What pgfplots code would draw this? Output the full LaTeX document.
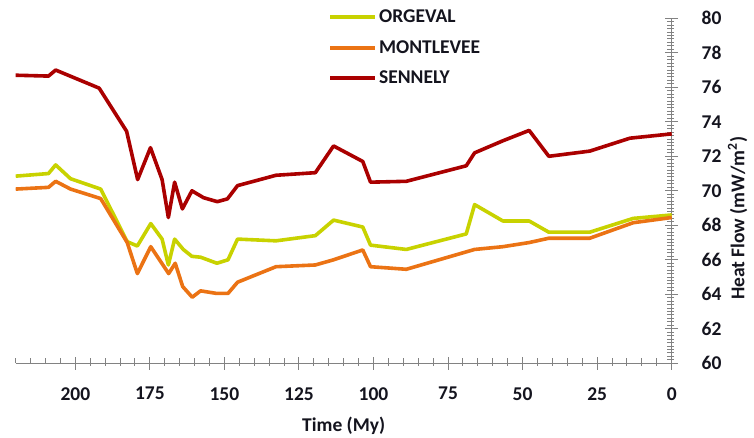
\documentclass[border=0pt]{standalone}
\usepackage{pgfplots}
\pgfplotsset{compat=1.18}
\usepackage{fontspec}
\setmainfont{Carlito}
\definecolor{orgeval}{RGB}{200,210,0}
\definecolor{montlevee}{RGB}{235,115,20}
\definecolor{sennely}{RGB}{170,0,0}
\definecolor{axisgray}{RGB}{130,130,130}
\definecolor{txt}{RGB}{20,20,30}

\begin{document}
\begin{tikzpicture}
\path[use as bounding box] (-15.7pt,-74.7pt) rectangle (738.3pt,363.3pt);
\begin{axis}[
    at={(0pt,0pt)}, anchor=south west,
    scale only axis, width=656pt, height=345pt,
    x dir=reverse, xmin=0, xmax=220, ymin=60, ymax=80,
    clip=false,
    axis x line=bottom, axis y line=right,
    axis line style={-, draw=axisgray, line width=1.2pt},
    xtick={0,25,...,200}, ytick={60,62,...,80},
    minor x tick num=4, minor y tick num=9,
    xtick align=center, ytick align=center,
    major tick length=13pt, minor tick length=5pt,
    tick style={axisgray, line width=1pt},
    /pgf/number format/assume math mode=true,
    ticklabel style={font=\fontsize{19.5}{23}\selectfont\bfseries, text=txt},
    xticklabel style={yshift=-14pt},
    yticklabel style={xshift=20pt},
    xlabel={Time (My)},
    ylabel={Heat Flow  (mW/m\textsuperscript{2})},
    label style={font=\fontsize{19.5}{23}\selectfont\bfseries, text=txt},
    xlabel style={yshift=-10pt},
    ylabel style={at={(rel axis cs:1.1006,0.42)}, anchor=center},
    legend style={draw=none, fill=none, at={(rel axis cs:0.476,0.915)}, anchor=west,
        font=\fontsize{19.5}{23}\selectfont\bfseries, text=txt, row sep=12pt, inner sep=0pt},
    legend cell align=left,
    legend image code/.code={\draw[#1, line width=4pt] (0pt,0pt) -- (45pt,0pt);},
]
% tick marks drawn by hand as well
\pgfplotsinvokeforeach{0,5,...,220}{
  \draw[axisgray, line width=1pt] (axis cs:#1,60) -- ([yshift=5pt]axis cs:#1,60);}
\pgfplotsinvokeforeach{0,25,...,200}{
  \draw[axisgray, line width=1pt] ([yshift=-6.5pt]axis cs:#1,60) -- ([yshift=6.5pt]axis cs:#1,60);}
\pgfplotsinvokeforeach{60,60.2,...,80}{
  \draw[axisgray, line width=1pt] (axis cs:0,#1) -- ([xshift=-5pt]axis cs:0,#1);}
\pgfplotsinvokeforeach{60,62,...,80}{
  \draw[axisgray, line width=1pt] ([xshift=-6.5pt]axis cs:0,#1) -- ([xshift=6.5pt]axis cs:0,#1);}

\addplot[color=orgeval, line width=3.6pt, line join=round] coordinates {
(220,70.85) (209,71.0) (206.6,71.5) (201.6,70.7) (191.5,70.1) (182.6,67.05)
(179.2,66.8) (174.7,68.1) (170.9,67.2) (168.8,65.7) (166.7,67.2) (163.8,66.6)
(160.9,66.2) (158,66.15) (152.5,65.8) (148.8,66.0) (145.6,67.2) (132.7,67.1)
(119.5,67.4) (113.4,68.3) (103.6,67.9) (101,66.85) (89,66.6) (68.9,67.5)
(66.1,69.2) (56.6,68.25) (47.8,68.25) (41.2,67.6) (27.5,67.6) (12.9,68.4) (0,68.6)
};
\addplot[color=montlevee, line width=3.6pt, line join=round] coordinates {
(220,70.1) (209,70.2) (206.6,70.55) (201.6,70.1) (191.5,69.55) (182.6,67.0)
(179.2,65.2) (174.7,66.76) (168.7,65.2) (166.5,65.8) (164,64.45) (160.8,63.83)
(158,64.2) (152.6,64.05) (148.8,64.05) (145.6,64.7) (132.7,65.6) (119.5,65.7)
(113.4,66.0) (103.6,66.57) (101,65.6) (89,65.45) (66.1,66.6) (56.6,66.76)
(47.8,67.0) (41.2,67.25) (27.5,67.25) (12.9,68.15) (0,68.45)
};
\addplot[color=sennely, line width=3.6pt, line join=round] coordinates {
(220,76.7) (209,76.65) (206.6,77.0) (192,75.95) (182.8,73.45) (179.1,70.65)
(174.8,72.5) (170.9,70.65) (168.8,68.45) (166.7,70.5) (164.1,68.95) (160.9,70.0)
(157,69.6) (152.4,69.37) (149,69.53) (145.6,70.3) (132.7,70.9) (119.5,71.05)
(113.4,72.6) (103.6,71.7) (101,70.5) (89,70.55) (68.9,71.45) (66.1,72.2)
(56.6,72.9) (47.8,73.5) (41.2,72.0) (27.5,72.3) (14,73.05) (0,73.3)
};
\legend{ORGEVAL, MONTLEVEE, SENNELY}
\end{axis}
\end{tikzpicture}
\end{document}
